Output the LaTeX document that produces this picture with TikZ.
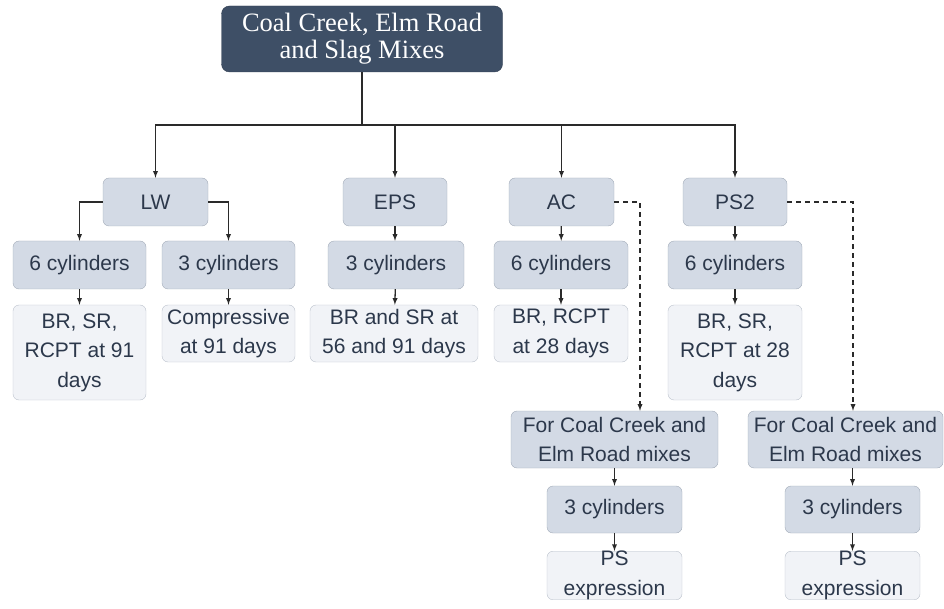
\documentclass[tikz,border=0pt]{standalone}
\usepackage{fontspec}
\setmainfont{Liberation Sans}
\newfontfamily\titlefont{Liberation Serif}
\definecolor{topfill}{HTML}{3E4F66}
\definecolor{midfill}{HTML}{D3DAE5}
\definecolor{midline}{HTML}{A3ACB9}
\definecolor{lowfill}{HTML}{F1F3F7}
\definecolor{lowline}{HTML}{BBC2CC}
\definecolor{boxtext}{HTML}{2C384B}
\definecolor{linkgray}{HTML}{2A2A2A}
\tikzset{
  box/.style={rounded corners=6pt,align=center,inner sep=0pt,text=boxtext,font=\fontsize{21}{29.5}\selectfont},
  midbox/.style={box,fill=midfill,draw=midline},
  lowbox/.style={box,fill=lowfill,draw=lowline},
  topbox/.style={rounded corners=8pt,align=center,inner sep=0pt,fill=topfill,draw=topfill!80!black,text=white,font=\titlefont\fontsize{26.5}{27}\selectfont},
  link/.style={-latex,line width=1.3pt,draw=linkgray},
  dashlink/.style={link,dashed,dash pattern=on 5pt off 4pt}
}
\begin{document}
\begin{tikzpicture}[x=1pt,y=-1pt]
\useasboundingbox(0,0)rectangle(944,609);
\node[topbox,minimum width=281,minimum height=66](mixes)at(362,39){Coal Creek, Elm Road\\and Slag Mixes};
\coordinate(split)at(362,125);
\node[midbox,minimum width=105,minimum height=48](lw)at(155.5,202){LW};
\node[midbox,minimum width=104,minimum height=48](eps)at(395,202){EPS};
\node[midbox,minimum width=105,minimum height=48](ac)at(561.5,202){AC};
\node[midbox,minimum width=104,minimum height=48](ps2)at(735,202){PS2};
\node[midbox,minimum width=133,minimum height=48](lwsix)at(79.5,265){6 cylinders};
\node[midbox,minimum width=133,minimum height=48](lwthree)at(228.5,265){3 cylinders};
\node[midbox,minimum width=136,minimum height=48](epsthree)at(396,265){3 cylinders};
\node[midbox,minimum width=134,minimum height=48](acsix)at(561,265){6 cylinders};
\node[midbox,minimum width=134,minimum height=48](pssix)at(735,265){6 cylinders};
\node[lowbox,minimum width=133,minimum height=95](lwsixres)at(79.5,352.5){BR, SR,\\RCPT at 91\\days};
\node[lowbox,minimum width=133,minimum height=57](lwthreeres)at(228.5,333.5){Compressive\\at 91 days};
\node[lowbox,minimum width=168,minimum height=57](epsres)at(394,333.5){BR and SR at\\56 and 91 days};
\node[lowbox,minimum width=134,minimum height=57](acres)at(561,333.5){BR, RCPT\\at 28 days};
\node[lowbox,minimum width=134,minimum height=95](psres)at(735,352.5){BR, SR,\\RCPT at 28\\days};
\node[midbox,minimum width=207,minimum height=57](acmix)at(614.5,439.5){For Coal Creek and\\Elm Road mixes};
\node[midbox,minimum width=135,minimum height=47](acthree)at(614.5,509.5){3 cylinders};
\node[lowbox,minimum width=135,minimum height=47](acps)at(614.5,575.5){PS\\expression};
\node[midbox,minimum width=195,minimum height=57](psmix)at(845.5,439.5){For Coal Creek and\\Elm Road mixes};
\node[midbox,minimum width=135,minimum height=47](psthree)at(852.5,509.5){3 cylinders};
\node[lowbox,minimum width=135,minimum height=47](psps)at(852.5,575.5){PS\\expression};
\draw[link,-](mixes.south)--(split);
\foreach \n in {lw,eps,ac,ps2}{\draw[link](split)-|(\n.north);}
\draw[link](lw.west)-|(lwsix.north);
\draw[link](lw.east)-|(lwthree.north);
\draw[link](lwsix)--(lwsixres);
\draw[link](lwthree)--(lwthreeres);
\draw[link](eps.south)--(eps.south|-epsthree.north);
\draw[link](epsthree)--(epsres);
\draw[link](ac)--(acsix);
\draw[link](acsix)--(acres);
\draw[link](ps2)--(pssix);
\draw[link](pssix)--(psres);
\draw[dashlink](ac.east)-|([xshift=25.5pt]acmix.north);
\draw[dashlink](ps2.east)-|([xshift=7.5pt]psmix.north);
\draw[link](acmix)--(acthree);
\draw[link](acthree)--(acps);
\draw[link](psmix.south-|psthree)--(psthree);
\draw[link](psthree)--(psps);
\end{tikzpicture}
\end{document}
